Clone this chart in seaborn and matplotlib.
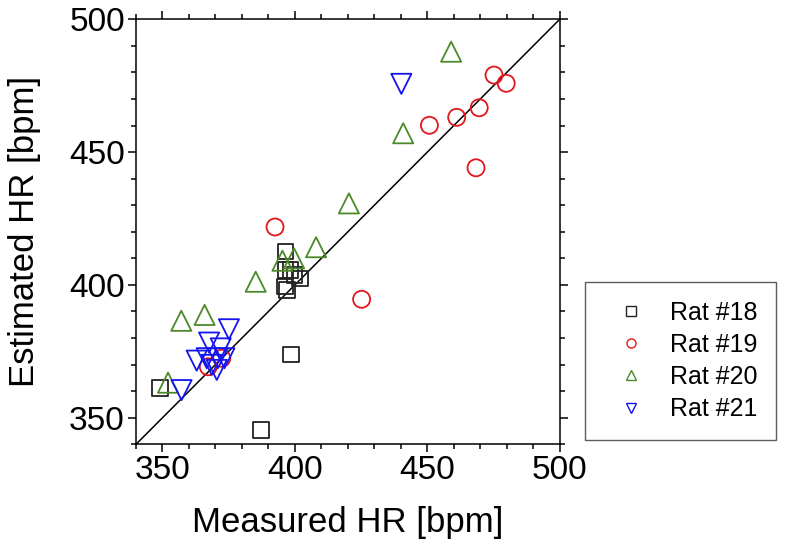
import numpy as np
import pandas as pd
import matplotlib
matplotlib.use("Agg")
import matplotlib.pyplot as plt
import matplotlib.ticker as mticker
import seaborn as sns

# --- data (Measured HR, Estimated HR in bpm) ---
rat18_x = [349.1, 387.2, 398.5, 396.5, 396.5, 398.2, 400.0, 401.9, 396.3, 397.0]
rat18_y = [361.2, 345.4, 373.7, 412.5, 405.6, 405.6, 403.7, 402.5, 399.3, 398.1]

rat19_x = [475.2, 479.8, 469.6, 461.1, 450.8, 468.4, 392.5, 425.2, 367.3, 372.4]
rat19_y = [479.0, 475.9, 466.7, 463.1, 460.1, 444.1, 421.8, 394.6, 369.2, 372.4]

rat20_x = [459.0, 440.9, 420.4, 408.0, 399.7, 395.3, 385.2, 365.9, 357.1, 352.1]
rat20_y = [487.8, 457.1, 430.7, 414.2, 410.0, 409.1, 401.2, 388.7, 386.5, 363.2]

rat21_x = [440.2, 375.1, 367.6, 372.0, 362.9, 366.7, 370.9, 373.4, 368.6, 370.5, 357.2]
rat21_y = [475.7, 383.3, 378.3, 376.1, 371.5, 372.4, 372.4, 372.4, 369.9, 368.0, 360.4]

labels = ["Rat #18", "Rat #19", "Rat #20", "Rat #21"]
markers = ["s", "o", "^", "v"]
colors = ["#222222", "#e3161c", "#4b8a2a", "#1414f0"]
sizes = [120, 150, 210, 210]

AX_MIN, AX_MAX = 340, 500

frames = []
for lab, xs, ys in zip(labels, [rat18_x, rat19_x, rat20_x, rat21_x],
                       [rat18_y, rat19_y, rat20_y, rat21_y]):
    frames.append(pd.DataFrame({"measured": xs, "estimated": ys, "rat": lab}))
df = pd.concat(frames, ignore_index=True)

sns.set_theme(style="ticks")
plt.rcParams.update({
    "font.family": ["Liberation Sans", "DejaVu Sans"],
    "text.color": "black",
    "axes.labelcolor": "black",
    "xtick.color": "black",
    "ytick.color": "black",
    "axes.edgecolor": "black",
    "axes.linewidth": 1.1,
    "xtick.direction": "out",
    "ytick.direction": "out",
    "xtick.major.size": 6,
    "ytick.major.size": 6,
    "xtick.minor.size": 3.5,
    "ytick.minor.size": 3.5,
    "xtick.major.width": 1.1,
    "ytick.major.width": 1.1,
    "xtick.minor.width": 1.1,
    "ytick.minor.width": 1.1,
})

fig = plt.figure(figsize=(7.9, 5.46), dpi=100)
ax = fig.add_axes([136 / 790, 1 - 444.3 / 546, (559.7 - 136) / 790, (444.3 - 19.3) / 546])

ax.plot([AX_MIN, AX_MAX], [AX_MIN, AX_MAX], color="black", lw=1.1, zorder=1)

handles = []
for lab, mk, col, s in zip(labels, markers, colors, sizes):
    sub = df[df["rat"] == lab]
    sns.scatterplot(data=sub, x="measured", y="estimated", marker=mk, s=s,
                    facecolors="none", edgecolor=col, linewidth=1.3, ax=ax,
                    zorder=3, legend=False)
    handles.append(plt.Line2D([], [], ls="none", marker=mk, markersize=6.5,
                              markerfacecolor="none", markeredgecolor=col,
                              markeredgewidth=1.0, label=lab))

ax.set_xlim(AX_MIN, AX_MAX)
ax.set_ylim(AX_MIN, AX_MAX)
ax.xaxis.set_minor_locator(mticker.MultipleLocator(10))
ax.yaxis.set_minor_locator(mticker.MultipleLocator(10))
ax.set_xticks([350, 400, 450, 500])
ax.set_yticks([350, 400, 450, 500])
ax.tick_params(which="both", top=True, right=True, labelsize=24, pad=2)
for sp in ax.spines.values():
    sp.set_visible(True)

ax.set_xlabel("Measured HR [bpm]", fontsize=25, labelpad=14)
ax.set_ylabel("Estimated HR [bpm]", fontsize=25, labelpad=20)

leg = fig.legend(handles=handles, loc="lower left",
                 bbox_to_anchor=(585 / 790, 1 - 440 / 546),
                 bbox_transform=fig.transFigure, borderaxespad=0,
                 frameon=True, fancybox=False, fontsize=18,
                 handletextpad=0.45, labelspacing=0.33, borderpad=0.75,
                 handlelength=2.2)
leg.get_frame().set_edgecolor("#333333")
leg.get_frame().set_linewidth(1.0)

fig.savefig("out.png", dpi=100)
